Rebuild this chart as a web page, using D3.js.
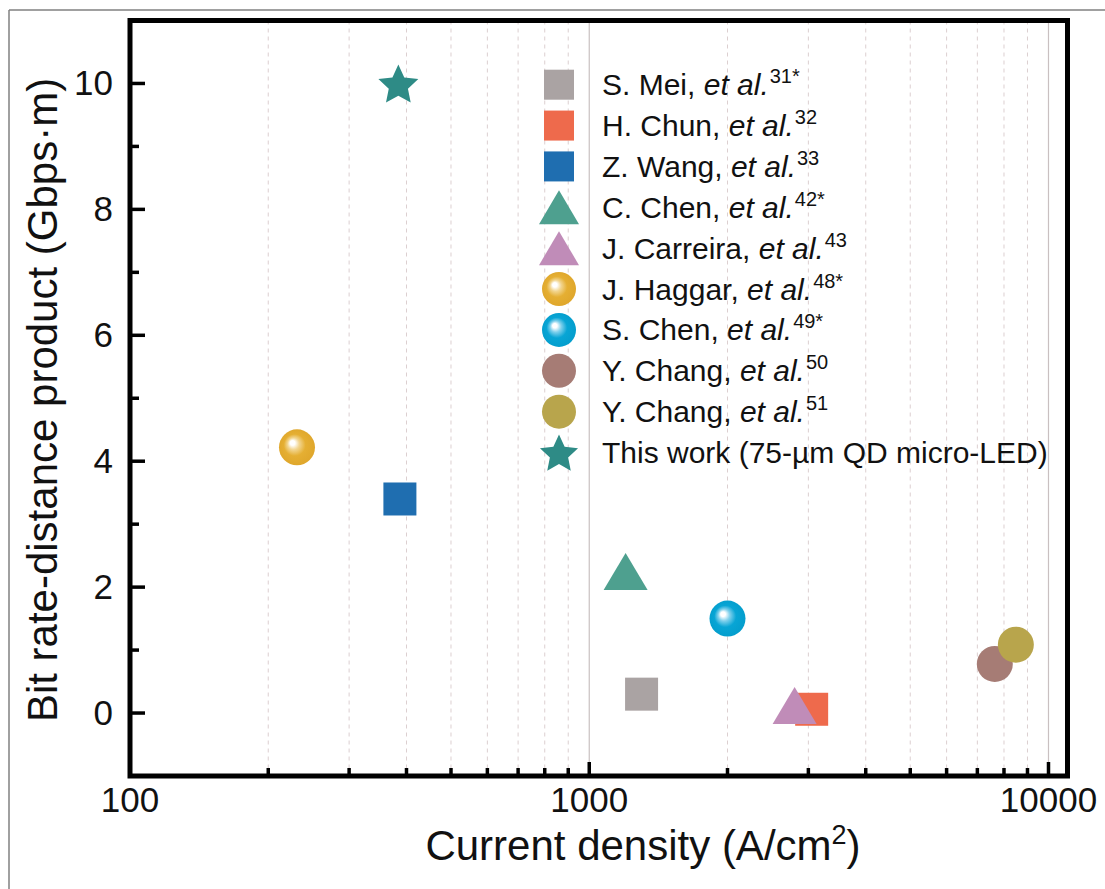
<!DOCTYPE html>
<html>
<head>
<meta charset="utf-8">
<script src="https://cdn.jsdelivr.net/npm/d3@7"></script>
<style>
  html, body { margin: 0; padding: 0; background: #fff; }
  svg { display: block; font-family: "Liberation Sans", Arial, sans-serif; }
</style>
</head>
<body>
<script>
// ---------- data ----------
const authors = ["S. Mei", "H. Chun", "Z. Wang", "C. Chen", "J. Carreira", "J. Haggar", "S. Chen", "Y. Chang", "Y. Chang", "This work (75-µm QD micro-LED)"];
const refs = ["31*", "32", "33", "42*", "43", "48*", "49*", "50", "51", ""];
const currentDensity = [1300, 3050, 387, 1200, 2800, 231, 2000, 7640, 8490, 384];
const bitRateDistance = [0.30, 0.06, 3.40, 2.25, 0.12, 4.22, 1.50, 0.78, 1.085, 10.0];
const shapes = ["square", "square", "square", "triangle", "triangle", "sphere", "sphere", "circle", "circle", "star"];
const colors = ["#aaa3a3", "#ee6a4c", "#1f6eb0", "#4ea08f", "#c08cb8", "#e5af33", "#08a5d5", "#a67c75", "#b8a54c", "#2e8b86"];

const xMajorTicks = [100, 1000, 10000];
const xMinorTicks = [200, 300, 400, 500, 600, 700, 800, 900, 2000, 3000, 4000, 5000, 6000, 7000, 8000, 9000];
const yMajorTicks = [0, 2, 4, 6, 8, 10];
const yMinorTicks = [1, 3, 5, 7, 9];
const xTitle = "Current density (A/cm";
const yTitle = "Bit rate-distance product (Gbps·m)";

// ---------- layout ----------
const W = 1105, H = 889;
const svg = d3.select("body").append("svg").attr("width", W).attr("height", H);

const x = d3.scaleLog().domain([100, 11000]).range([130, 1067.5]);
const y = d3.scaleLinear().domain([-1, 11]).range([776, 20.5]);

const defs = svg.append("defs");
function sphereGrad(id, base, light, dark) {
  const g = defs.append("radialGradient").attr("id", id)
    .attr("cx", "0.5").attr("cy", "0.5").attr("r", "0.55")
    .attr("fx", "0.36").attr("fy", "0.36");
  g.append("stop").attr("offset", "0").attr("stop-color", "#ffffff");
  g.append("stop").attr("offset", "0.12").attr("stop-color", "#ffffff");
  g.append("stop").attr("offset", "0.3").attr("stop-color", light);
  g.append("stop").attr("offset", "0.55").attr("stop-color", base);
  g.append("stop").attr("offset", "1").attr("stop-color", dark);
}
sphereGrad("grad5", colors[5], "#f2d58f", "#dea52a");
sphereGrad("grad6", colors[6], "#7fd0ec", "#039ccb");

// outer border (top & left)
svg.append("line").attr("x1", 9).attr("x2", W).attr("y1", 10).attr("y2", 10)
  .attr("stroke", "#808080").attr("stroke-width", 1.5);
svg.append("line").attr("x1", 9).attr("x2", 9).attr("y1", 10).attr("y2", H)
  .attr("stroke", "#808080").attr("stroke-width", 1.5);

const [x0, x1] = x.range();
const [y0, y1] = y.range();

// gridlines
svg.append("g").selectAll("line").data(xMinorTicks).join("line")
  .attr("x1", d => x(d)).attr("x2", d => x(d)).attr("y1", y1).attr("y2", y0)
  .attr("stroke", "#dccfd0").attr("stroke-width", 1).attr("stroke-dasharray", "4,4");
svg.append("g").selectAll("line").data(xMajorTicks.slice(1)).join("line")
  .attr("x1", d => x(d)).attr("x2", d => x(d)).attr("y1", y1).attr("y2", y0)
  .attr("stroke", "#c9c0c1").attr("stroke-width", 1.2);

// ticks (inward)
const tickG = svg.append("g").attr("stroke", "#000").attr("stroke-width", 3.5);
tickG.selectAll(".xmaj").data(xMajorTicks.slice(1)).join("line")
  .attr("x1", d => x(d)).attr("x2", d => x(d)).attr("y1", y0).attr("y2", y0 - 14);
tickG.selectAll(".xmin").data(xMinorTicks).join("line")
  .attr("x1", d => x(d)).attr("x2", d => x(d)).attr("y1", y0).attr("y2", y0 - 8);
tickG.selectAll(".ymaj").data(yMajorTicks).join("line")
  .attr("x1", x0).attr("x2", x0 + 15).attr("y1", d => y(d)).attr("y2", d => y(d));
tickG.selectAll(".ymin").data(yMinorTicks).join("line")
  .attr("x1", x0).attr("x2", x0 + 9).attr("y1", d => y(d)).attr("y2", d => y(d));

// frame
svg.append("rect").attr("x", x0).attr("y", y1).attr("width", x1 - x0).attr("height", y0 - y1)
  .attr("fill", "none").attr("stroke", "#000").attr("stroke-width", 5);

// tick labels
svg.append("g").selectAll("text").data(xMajorTicks).join("text")
  .attr("x", d => x(d)).attr("y", 812).attr("text-anchor", "middle")
  .attr("font-size", 35).attr("fill", "#111").text(d => d);
svg.append("g").selectAll("text").data(yMajorTicks).join("text")
  .attr("x", 113).attr("y", d => y(d)).attr("dy", "0.33em").attr("text-anchor", "end")
  .attr("font-size", 35).attr("fill", "#111").text(d => d);

// axis titles
const xt = svg.append("text").attr("x", 643).attr("y", 860).attr("text-anchor", "middle")
  .attr("font-size", 42).attr("fill", "#111");
xt.append("tspan").text(xTitle);
xt.append("tspan").attr("dy", -16).attr("font-size", 27).text("2");
xt.append("tspan").attr("dy", 16).text(")");

svg.append("text").attr("transform", "translate(57,400) rotate(-90)")
  .attr("text-anchor", "middle").attr("font-size", 42).attr("fill", "#111").text(yTitle);

// ---------- markers ----------
function starPath(R, r) {
  const pts = [];
  for (let i = 0; i < 10; i++) {
    const a = -Math.PI / 2 + i * Math.PI / 5;
    const rr = i % 2 === 0 ? R : r;
    pts.push([rr * Math.cos(a), rr * Math.sin(a)]);
  }
  return "M" + pts.map(p => p.join(",")).join("L") + "Z";
}
function drawMarker(g, i, cx, cy, s) {
  const shape = shapes[i];
  if (shape === "square") {
    g.append("rect").attr("x", cx - s.sq / 2).attr("y", cy - s.sq / 2)
      .attr("width", s.sq).attr("height", s.sq).attr("fill", colors[i]);
  } else if (shape === "triangle") {
    const w = s.tw, h = s.th;
    g.append("path").attr("d", `M${cx},${cy - h / 2}L${cx + w / 2},${cy + h / 2}L${cx - w / 2},${cy + h / 2}Z`)
      .attr("fill", colors[i]);
  } else if (shape === "sphere") {
    g.append("circle").attr("cx", cx).attr("cy", cy).attr("r", s.cr)
      .attr("fill", `url(#grad${i})`);
  } else if (shape === "circle") {
    g.append("circle").attr("cx", cx).attr("cy", cy).attr("r", s.cr).attr("fill", colors[i]);
  } else if (shape === "star") {
    g.append("path").attr("d", starPath(s.sr, s.sr * 0.48))
      .attr("transform", `translate(${cx},${cy + s.sr * 0.1})`).attr("fill", colors[i]);
  }
}

const plotSize = { sq: 33, tw: 44, th: 37, cr: 18, sr: 21 };
const legSize = { sq: 30, tw: 40, th: 34, cr: 17, sr: 20 };

const mG = svg.append("g");
currentDensity.forEach((cd, i) => drawMarker(mG, i, x(cd), y(bitRateDistance[i]), plotSize));

// ---------- legend ----------
const legY = d3.scaleLinear().domain([0, authors.length - 1]).range([84.7, 452.5]);
const lg = svg.append("g");
authors.forEach((name, i) => {
  const cy = legY(i);
  drawMarker(lg, i, 559, cy, legSize);
  const t = lg.append("text").attr("x", 602).attr("y", cy + 10.5)
    .attr("font-size", 30).attr("fill", "#111");
  if (refs[i] === "") {
    t.text(name);
  } else {
    t.append("tspan").text(name + ", ");
    t.append("tspan").attr("font-style", "italic").text("et al.");
    t.append("tspan").attr("dy", -12).attr("dx", 1).attr("font-size", 20).text(refs[i]);
  }
});
</script>
</body>
</html>
